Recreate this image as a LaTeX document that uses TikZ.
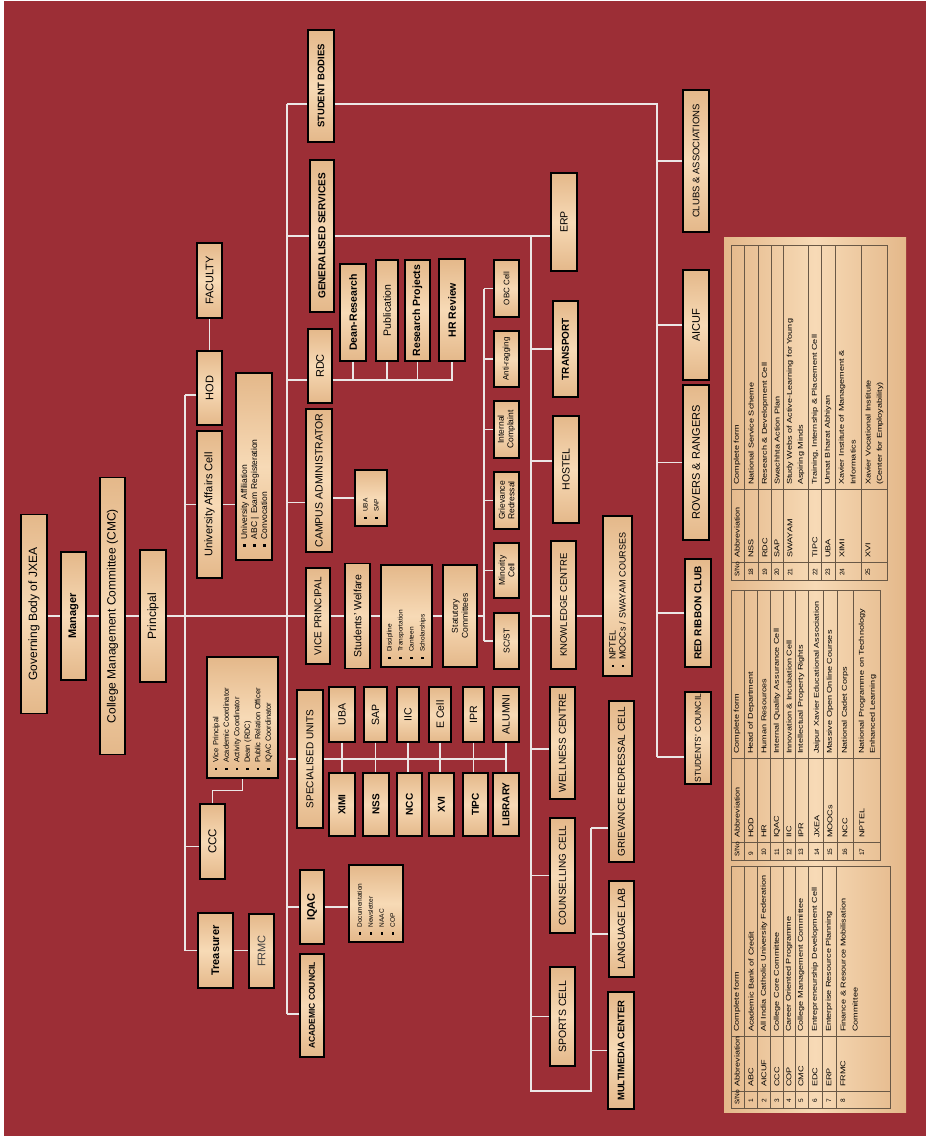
\documentclass[tikz,border=0pt]{standalone}
\usepackage{fontspec}
\setmainfont{Liberation Sans}
\usetikzlibrary{positioning, calc}
\definecolor{bgred}{RGB}{156,46,54}
\definecolor{woodl}{RGB}{247,218,182}
\definecolor{woodd}{RGB}{228,184,138}
\definecolor{lnk}{RGB}{236,230,230}
\definecolor{tabl}{RGB}{105,88,70}
\newcommand{\fsz}[2]{\fontsize{#1}{#2}\selectfont}
\newcommand{\bsq}{\rule[0.3ex]{2.2pt}{2.2pt}\hspace{5pt}}
\newcommand{\tw}[1]{\scalebox{1.3}[1]{#1}}

\begin{document}
\begin{tikzpicture}[x=1pt, y=-1pt,
  wbox/.style={draw=black, line width=1.3pt, rotate=90, top color=woodd, bottom color=woodd, middle color=woodl, inner sep=1pt, align=center, font=\fsz{10}{12}},
  lbox/.style={wbox, align=left},
  sz/.style 2 args={minimum width=#1pt, minimum height=#2pt},
  link/.style={draw=lnk, line width=1.3pt},
  tt/.style={rotate=90, anchor=west, inner sep=0pt, font=\fsz{7}{8}},
  tn/.style={tt, font=\fsz{6.5}{7}},
  tline/.style={draw=tabl, line width=0.6pt}]

  % Background
  \fill[white] (0,0) rectangle (926,1136);
  \fill[bgred] (4,1) rectangle (926,1136);

  % Top of the hierarchy
  \node[wbox, sz={199}{26}, font=\fsz{12}{14}] (gov) at (34,614) {Governing Body of JXEA};
  \node[wbox, sz={128}{25}, font=\fsz{11}{13}\bfseries] (mgr) at (73.5,616) {Manager};
  \node[wbox, sz={277}{25}, font=\fsz{12}{14}] (cmc) at (112.5,616) {College Management Committee (CMC)};
  \node[wbox, sz={132}{26}, font=\fsz{12}{14}] (prin) at (153,616) {Principal};

  % First column under the Principal
  \node[wbox, sz={75}{25}, font=\fsz{11}{13}] (fac) at (209.5,280.5) {FACULTY};
  \node[wbox, sz={74}{25}, font=\fsz{11}{13}] (hod) at (209.5,388) {HOD};
  \node[wbox, sz={147}{25}, font=\fsz{11}{13}] (uac) at (209.5,504.5) {University Affairs Cell};
  \node[lbox, sz={187}{36}, text width=160pt, font=\fsz{8.5}{10}] (uacl) at (254,466.5)
    {\bsq University Affiliation\\\bsq ABC | Exam Registeration\\\bsq Convocation};
  \node[wbox, sz={75}{25}, font=\fsz{11.5}{13}] (ccc) at (212.5,841.5) {CCC};
  \node[lbox, sz={121}{71}, text width=105pt, font=\fsz{7.5}{10.5}] (cccl) at (242.5,717.5)
    {\bsq Vice Principal\\\bsq Academic Coordinator\\\bsq Activity Coordinator\\\bsq Dean (RDC)\\\bsq Public Relation Officer\\\bsq IQAC Coordinator};
  \node[wbox, sz={75}{35}, font=\fsz{11}{13}\bfseries] (tre) at (215.5,950.5) {Treasurer};
  \node[wbox, sz={74}{25}, font=\fsz{11}{13}, text=darkgray] (frmc) at (261.5,951) {FRMC};

  % Second column
  \node[wbox, sz={112}{26}, font=\fsz{9.5}{11}\bfseries] (sb) at (321,86) {STUDENT BODIES};
  \node[wbox, sz={152}{24}, font=\fsz{10}{12}\bfseries] (gs) at (322,236) {GENERALISED SERVICES};
  \node[wbox, sz={74}{24}, font=\fsz{11}{13}] (rdc) at (320,366) {RDC};
  \node[wbox, sz={143}{26}, font=\fsz{10.5}{12}] (ca) at (319,480.5) {CAMPUS ADMINISTRATOR};
  \node[wbox, sz={96}{24}] (vp) at (318,616) {VICE PRINCIPAL};
  \node[wbox, sz={138}{26}] (su) at (310,759) {SPECIALISED UNITS};
  \node[wbox, sz={74}{24}, font=\fsz{11}{13}\bfseries] (iqac) at (312,907) {IQAC};
  \node[wbox, sz={103}{24}, font=\fsz{8.5}{10}\bfseries] (ac) at (312,1005.5) {ACADEMIC COUNCIL};
  \node[lbox, sz={77}{54}, text width=62pt, font=\fsz{6.5}{11}] (iqacl) at (376,903.5)
    {\bsq Documentation\\\bsq Newsletter\\\bsq NAAC\\\bsq COP};

  % RDC wing
  \node[wbox, sz={97}{26}, font=\fsz{10.5}{12}\bfseries] (dean) at (353,312.5) {Dean-Research};
  \node[wbox, sz={101}{22}, font=\fsz{10.5}{12}] (pub) at (387,310.5) {Publication};
  \node[wbox, sz={101}{25}, font=\fsz{10.5}{12}\bfseries] (rp) at (417.5,310.5) {Research Projects};
  \node[wbox, sz={102}{26}, font=\fsz{10.5}{12}\bfseries] (hr) at (452,310) {HR Review};
  \node[lbox, sz={56}{32}, text width=42pt, font=\fsz{6.5}{11}] (casl) at (371,498) {\bsq UBA\\\bsq SAP};

  % Vice Principal wing
  \node[wbox, sz={105}{25}, font=\fsz{10.5}{12}] (sw) at (357.5,616) {Students' Welfare};
  \node[lbox, sz={102}{51}, text width=86pt, font=\fsz{6.5}{11}] (swl) at (406.5,616)
    {\bsq Discipline\\\bsq Transportation\\\bsq Canteen\\\bsq Scholarships};
  \node[wbox, sz={102}{34}, font=\fsz{8.5}{10}] (stat) at (460,616) {Statutory\\Committees};

  % Specialised units
  \foreach \n/\t/\x/\bw in {uba/UBA/342/26, sap/SAP/375.5/23, iic/IIC/408/22, ecell/E Cell/440/22, ipr/IPR/473.5/21, alumni/ALUMNI/506/26}
    \node[wbox, sz={55}{\bw}, font=\fsz{10.5}{12}] (\n) at (\x,714.5) {\t};
  \foreach \n/\t/\x/\bw in {ximi/XIMI/342/26, nss/NSS/376/26, ncc/NCC/409.5/25, xvi/XVI/441.5/25, tipc/TIPC/475.5/25, lib/LIBRARY/506/26}
    \node[wbox, sz={63}{\bw}, font=\fsz{10}{12}\bfseries] (\n) at (\x,804.5) {\t};

  % Statutory cells
  \node[wbox, sz={57}{25}, font=\fsz{8}{9}] (obc) at (506.5,288.5) {OBC Cell};
  \node[wbox, sz={56}{25}, font=\fsz{8}{9}] (antir) at (506.5,359) {Anti-ragging};
  \node[wbox, sz={57}{25}, font=\fsz{8.5}{9.5}] (intc) at (506.5,429.5) {Internal\\Complaint};
  \node[wbox, sz={57}{25}, font=\fsz{8.5}{9.5}] (griev) at (506.5,500.5) {Grievance\\Redressal};
  \node[wbox, sz={55}{25}, font=\fsz{8.5}{9.5}] (minor) at (506.5,570.5) {Minority\\Cell};
  \node[wbox, sz={56}{25}, font=\fsz{8.5}{9.5}] (scst) at (506.5,641) {SC/ST};

  % Generalised services
  \node[wbox, sz={98}{26}, font=\fsz{10.5}{12}] (erp) at (564,222) {ERP};
  \node[wbox, sz={96}{25}, font=\fsz{10}{12}\bfseries] (trans) at (565.5,349) {TRANSPORT};
  \node[wbox, sz={107}{26}, font=\fsz{10.5}{12}] (hostel) at (566,469.5) {HOSTEL};
  \node[wbox, sz={128}{25}, font=\fsz{9.5}{11}] (kc) at (563.5,605) {KNOWLEDGE CENTRE};
  \node[lbox, sz={160}{29}, text width=142pt, font=\fsz{9}{10}] (kcl) at (617.5,596)
    {\bsq NPTEL\\\bsq MOOCs / SWAYAM COURSES};
  \node[wbox, sz={112}{25}] (well) at (562.5,743) {WELLNESS CENTRE};
  \node[wbox, sz={115}{25}] (couns) at (562.5,875.5) {COUNSELLING CELL};
  \node[wbox, sz={99}{25}, font=\fsz{10.5}{12}] (sports) at (562.5,1016.5) {SPORTS CELL};
  \node[wbox, sz={161}{25}] (grc) at (621.5,781.5) {GRIEVANCE REDRESSAL CELL};
  \node[wbox, sz={96}{25}, font=\fsz{10.5}{12}] (lang) at (621.5,929) {LANGUAGE LAB};
  \node[wbox, sz={117}{26}, font=\fsz{9.5}{11}\bfseries] (mm) at (621,1050.5) {MULTIMEDIA CENTER};

  % Student bodies
  \node[wbox, sz={142}{26}, font=\fsz{9.5}{11}] (clubs) at (696,161) {CLUBS \& ASSOCIATIONS};
  \node[wbox, sz={110}{26}, font=\fsz{11}{13}] (aicuf) at (696,325) {AICUF};
  \node[wbox, sz={155}{26}, font=\fsz{11}{13}] (rovers) at (696,462.5) {ROVERS \& RANGERS};
  \node[wbox, sz={108}{26}, font=\fsz{10}{12}\bfseries] (rrc) at (698,613) {RED RIBBON CLUB};
  \node[wbox, sz={92}{26}, font=\fsz{8.5}{10}] (scouncil) at (698,738) {STUDENTS' COUNCIL};

  % Main line
  \draw[link] (gov.south |- mgr.north) -- (mgr.north);
  \draw[link] (mgr.south) -- (cmc.north);
  \draw[link] (cmc.south) -- (prin.north);
  \draw[link] (prin.south) -- (vp.north);
  \draw[link] (vp.south) -- (sw.north);
  \draw[link] (sw.south) -- (swl.north);
  \draw[link] (swl.south) -- (stat.north);

  % Trunk under the Principal
  \coordinate (t1a) at (185,395);
  \coordinate (t1b) at (185,951);
  \draw[link] (t1a) -- (t1b);
  \draw[link] ([yshift=-7pt]hod.north) -- ([yshift=-7pt]hod.north -| t1a);
  \draw[link] (uac.north) -- (uac.north -| t1a);
  \draw[link] ([yshift=-5pt]ccc.north) -- ([yshift=-5pt]ccc.north -| t1a);
  \draw[link] (tre.north) -- (tre.north -| t1a);
  \draw[link] (hod.east) -- (fac.west);
  \draw[link] (uac.south) -- (uac.south -| uacl.north);
  \draw[link] (ccc.east) -- ++(0,-13) -| (cccl.west);
  \draw[link] (tre.south) -- (tre.south -| frmc.north);

  % Second trunk
  \coordinate (t2a) at (287,104);
  \coordinate (t2b) at (287,1014);
  \draw[link] (t2a) -- (t2b);
  \draw[link] ([yshift=-18pt]sb.north) -- (t2a);
  \draw[link] (gs.north) -- (gs.north -| t2a);
  \draw[link] ([yshift=-14pt]rdc.north) -- ([yshift=-14pt]rdc.north -| t2a);
  \draw[link] ([yshift=-22pt]ca.north) -- ([yshift=-22pt]ca.north -| t2a);
  \draw[link] (su.north) -- (su.north -| t2a);
  \draw[link] (iqac.north) -- (iqac.north -| t2a);
  \draw[link] ([yshift=-8.5pt]ac.north) -- (t2b);
  \draw[link] (iqac.south) -- (iqac.south -| iqacl.north);
  \draw[link] (casl.north) -- (casl.north -| ca.south);

  % RDC bus
  \coordinate (rb) at ([yshift=-14pt]rdc.south);
  \draw[link] (rb) -| (hr.west);
  \foreach \n in {dean, pub, rp}
    \draw[link] (\n.west) -- (\n.west |- rb);

  % Specialised units bus
  \draw[link] (su.south) -- (su.south -| alumni.center);
  \foreach \a/\b in {uba/ximi, sap/nss, iic/ncc, ecell/xvi, ipr/tipc, alumni/lib}
    \draw[link] (\a.west) -- (\a.west |- \b.east);

  % Statutory trunk
  \coordinate (t3a) at (484,288.5);
  \coordinate (t3b) at (484,641);
  \draw[link] (stat.south) -- (stat.south -| t3a);
  \draw[link] (t3a) -- (t3b);
  \foreach \n in {obc, antir, intc, griev, minor, scst}
    \draw[link] (\n.north) -- (\n.north -| t3a);

  % Generalised services trunk
  \draw[link] (gs.south) -- (gs.south -| erp.north);
  \coordinate (t4a) at (531,236);
  \coordinate (t4b) at (531,1091);
  \coordinate (t5a) at (591,828);
  \coordinate (t5b) at (591,1091);
  \draw[link] (t4a) -- (t4b) -- (t5b) -- (t5a);
  \draw[link] (trans.north) -- (trans.north -| t4a);
  \draw[link] ([yshift=8.5pt]hostel.north) -- ([yshift=8.5pt]hostel.north -| t4a);
  \draw[link] ([yshift=-11pt]kc.north) -- ([yshift=-11pt]kc.north -| t4a);
  \draw[link] ([yshift=-11pt]kc.south) -- ([yshift=-11pt]kc.south -| kcl.north);
  \draw[link] ([yshift=-6pt]well.north) -- ([yshift=-6pt]well.north -| t4a);
  \draw[link] (couns.north) -- (couns.north -| t4a);
  \draw[link] (sports.north) -- (sports.north -| t4a);
  \draw[link] ([yshift=-46.5pt]grc.north) -- (t5a);
  \draw[link] ([yshift=-5pt]lang.north) -- ([yshift=-5pt]lang.north -| t5a);
  \draw[link] (mm.north) -- (mm.north -| t5a);

  % Student bodies trunk
  \coordinate (t6a) at (657,104);
  \coordinate (t6b) at (657,757);
  \draw[link] ([yshift=-18pt]sb.south) -- (t6a) -- (t6b);
  \foreach \n in {clubs, aicuf, rovers, rrc}
    \draw[link] (\n.north) -- (\n.north -| t6a);
  \draw[link] ([yshift=-19pt]scouncil.north) -- (t6b);

  % Abbreviation table
  \fill[left color=woodd, right color=woodd, middle color=woodl] (724,237) rectangle (906,1112);
  \draw[tline] (731,866) rectangle (890,1108);
  \draw[tline] (731,590) rectangle (880,860);
  \draw[tline] (731,245) rectangle (887,580);
  \foreach \ya/\yb in {866/1108, 590/860, 245/580}
    \draw[tline] (744,\ya) -- (744,\yb);
  \foreach \y in {1091, 1036}
    \draw[tline] (731,\y) -- (890,\y);
  \foreach \y in {842, 758}
    \draw[tline] (731,\y) -- (880,\y);
  \foreach \y in {562, 489}
    \draw[tline] (731,\y) -- (887,\y);
  \foreach \x in {757.5, 770.5, 783, 795, 808, 822, 836}
    \draw[tline] (\x,866) -- (\x,1108);
  \foreach \x in {757.5, 770.5, 783, 795, 808, 823.5, 837.5, 853.5}
    \draw[tline] (\x,590) -- (\x,860);
  \foreach \x in {758, 771, 783.5, 808, 821.5, 835, 861}
    \draw[tline] (\x,245) -- (\x,580);

  % Table headers
  \foreach \c/\ya/\yb/\yc in {l/1105/1087/1032, m/857/838/754, r/577/558/485} {
    \node[tn] (\c h1) at (737,\ya) {S/No};
    \node[tt] (\c h2) at (737,\yb) {\tw{Abbreviation}};
    \node[tt] (\c h3) at (737,\yc) {\tw{Complete form}};
  }

  % Table rows
  \foreach \x/\n/\ab/\cf in {751/1/ABC/Academic Bank of Credit, 764/2/AICUF/All India Catholic University Federation,
      777/3/CCC/College Core Committee, 789/4/COP/Career Oriented Programme, 801/5/CMC/College Management Committee,
      815/6/EDC/Entrepreneurship Development Cell, 829/7/ERP/Enterprise Resource Planning,
      843/8/FRMC/Finance \& Resource Mobilisation} {
    \node[tn] (ln\n) at (\x,1103) {\n};
    \node[tt] (la\n) at (\x,1087) {\tw{\ab}};
    \node[tt] (lc\n) at (\x,1032) {\tw{\cf}};
  }
  \node[tt] (lc8b) at (855,1032) {\tw{Committee}};
  \foreach \x/\n/\ab/\cf in {751/9/HOD/Head of Department, 764/10/HR/Human Resources,
      777/11/IQAC/Internal Quality Assurance Cell, 789/12/IIC/Innovation \& Incubation Cell,
      801/13/IPR/Intellectual Property Rights, 817/14/JXEA/Jaipur Xavier Educational Association,
      830/15/MOOCs/Massive Open Online Courses, 845/16/NCC/National Cadet Corps,
      862/17/NPTEL/National Programme on Technology} {
    \node[tn] (mn\n) at (\x,856) {\n};
    \node[tt] (ma\n) at (\x,838) {\tw{\ab}};
    \node[tt] (mc\n) at (\x,754) {\tw{\cf}};
  }
  \node[tt] (mc17b) at (873,754) {\tw{Enhanced Learning}};
  \foreach \x/\n/\ab/\cf in {751/18/NSS/National Service Scheme, 765/19/RDC/Research \& Development Cell,
      777/20/SAP/Swachhta Action Plan, 790/21/SWAYAM/Study Webs of Active-Learning for Young,
      815/22/TIPC/{Training, Internship \& Placement Cell}, 828/23/UBA/Unnat Bharat Abhiyan,
      842/24/XIMI/Xavier Institute of Management \&, 868/25/XVI/Xavier Vocational Institute} {
    \node[tn] (rn\n) at (\x,576) {\n};
    \node[tt] (ra\n) at (\x,558) {\tw{\ab}};
    \node[tt] (rc\n) at (\x,485) {\tw{\cf}};
  }
  \node[tt] (rc21b) at (801,485) {\tw{Aspiring Minds}};
  \node[tt] (rc24b) at (853,485) {\tw{Informatics}};
  \node[tt] (rc25b) at (880,485) {\tw{(Center for Employability)}};
\end{tikzpicture}
\end{document}
